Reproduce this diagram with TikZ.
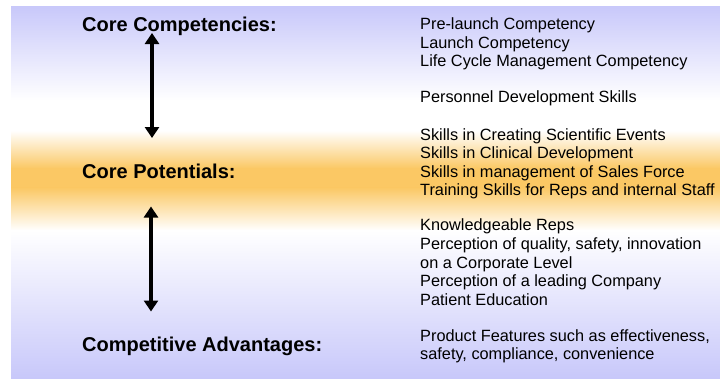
\documentclass[tikz,border=0pt]{standalone}
\usepackage{fontspec}
\setmainfont{Liberation Sans}
\usetikzlibrary{arrows.meta}
\definecolor{lav}{RGB}{200,200,250}
\definecolor{org}{RGB}{251,200,100}
\tikzset{
  head/.style={anchor=base west, inner sep=0pt, font=\fontsize{20}{24}\selectfont\bfseries},
  item/.style={anchor=base west, inner sep=0pt, font=\fontsize{16.3}{19}\selectfont},
  link/.style={line width=3.2pt, {Triangle[width=14pt,length=11pt]}-{Triangle[width=14pt,length=11pt]}},
}
\begin{document}
\begin{tikzpicture}[x=1pt,y=-1pt]
\useasboundingbox (0,0) rectangle (720,378);
% background gradient
\shade[top color=lav, bottom color=white] (11,6) rectangle (720,100.5);
\fill[white] (11,100) rectangle (720,131);
\shade[top color=white, bottom color=org] (11,130.5) rectangle (720,168.5);
\fill[org] (11,168) rectangle (720,188);
\shade[top color=org, bottom color=white] (11,187.5) rectangle (720,230.5);
\shade[top color=white, bottom color=lav] (11,230) rectangle (720,378);
% left headings
\node[head] (cc) at (82,31) {Core Competencies:};
\node[head] (cp) at (82,178.3) {Core Potentials:};
\node[head] (ca) at (82,351.5) {Competitive Advantages:};
% arrows
\coordinate (a1t) at (152,33);
\coordinate (a1b) at (152,138);
\coordinate (a2t) at (151,206.5);
\coordinate (a2b) at (151,311.5);
\draw[link] (a1t) -- (a1b);
\draw[link] (a2t) -- (a2b);
% right items
\node[item] (r1) at (420,29.3) {Pre-launch Competency};
\node[item] (r2) at (420,48) {Launch Competency};
\node[item] (r3) at (420,66.7) {Life Cycle Management Competency};
\node[item] (r4) at (420,102.3) {Personnel Development Skills};
\node[item] (r5) at (420,140) {Skills in Creating Scientific Events};
\node[item] (r6) at (420,158.5) {Skills in Clinical Development};
\node[item] (r7) at (420,177) {Skills in management of Sales Force};
\node[item] (r8) at (420,195.5) {Training Skills for Reps and internal Staff};
\node[item] (r9) at (420,230.7) {Knowledgeable Reps};
\node[item] (r10) at (420,249.3) {Perception of quality, safety, innovation};
\node[item] (r11) at (420,268) {on a Corporate Level};
\node[item] (r12) at (420,286.7) {Perception of a leading Company};
\node[item] (r13) at (420,305.7) {Patient Education};
\node[item] (r14) at (420,341.7) {Product Features such as effectiveness,};
\node[item] (r15) at (420,359.7) {safety, compliance, convenience};
\end{tikzpicture}
\end{document}
